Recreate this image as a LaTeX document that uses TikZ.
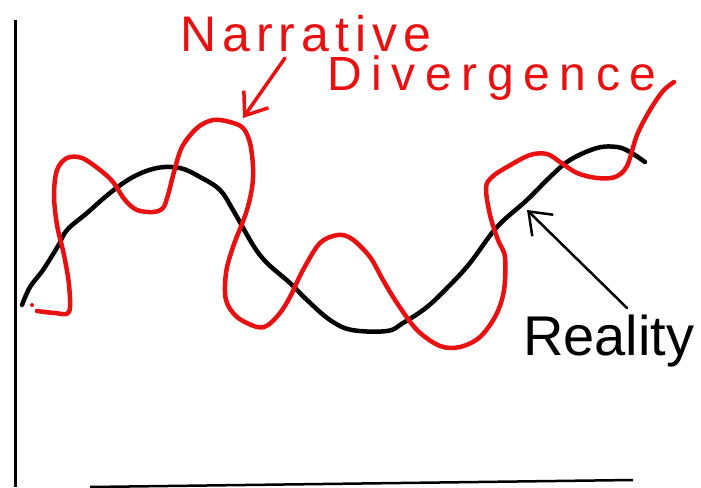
\documentclass[tikz,border=0pt]{standalone}
\usepackage{fontspec}
\setmainfont{Liberation Sans}
\usepackage{xcolor}
\usetikzlibrary{arrows.meta,positioning}
\definecolor{inkred}{RGB}{232,16,16}

\begin{document}
\begin{tikzpicture}[
    x=1pt, y=-1pt,
    axis/.style={line width=3pt, black},
    truth/.style={line width=4.5pt, black, line cap=round, line join=round},
    story/.style={line width=4.5pt, inkred, line cap=round, line join=round},
    label/.style={inner sep=0pt, anchor=base west},
    arrow/.style={-{Straight Barb[length=20pt,width=30pt]}, line cap=round, line join=round}
]
\useasboundingbox (0,0) rectangle (701,487);

% Axes
\draw[axis] (15,20) -- (15,487);
\draw[axis, line width=2.5pt] (90,487) -- (633,480);

% Reality
\draw[truth] plot[smooth, tension=0.6] coordinates {
    (22,305) (30,287) (43,270) (58,246) (67,230) (87,213) (110,193) (133,177)
    (157,168) (180,168) (200,177) (220,190) (233,210) (253,245) (267,263)
    (290,283) (307,300) (330,320) (352,330) (387,331) (403,323) (427,307)
    (450,285) (470,263) (497,227) (527,200) (550,177) (570,160) (597,148)
    (617,147) (630,152) (645,162)};

% Narrative
\fill[inkred] (32,305) circle (2pt);
\draw[story] plot[smooth, tension=0.55] coordinates {
    (37,311) (55,313) (69,312) (69,285) (64,255) (57,225) (54,195) (57,170)
    (67,158) (82,158) (100,170) (113,182) (125,200) (137,210) (153,212)
    (163,208) (168,195) (174,172) (182,147) (197,128) (213,120) (230,122)
    (243,128) (250,143) (253,167) (252,188) (246,213) (233,247) (226,273)
    (226,300) (237,317) (257,327) (268,325) (280,313) (290,297) (303,270)
    (320,243) (338,235) (352,239) (370,257) (383,280) (397,303) (417,330)
    (440,346) (460,347) (480,337) (496,315) (504,290) (505,257) (498,240)
    (490,215) (486,188) (492,177) (507,167) (530,155) (547,154) (560,162)
    (577,173) (597,178) (615,177) (627,166) (637,135) (650,110) (663,91)
    (674,82)};

% Labels
\node[label, text=inkred, font=\fontsize{50}{52}\selectfont\addfontfeature{LetterSpace=12}]
    (narr) at (180,52) {Narrative};
\node[label, text=inkred, font=\fontsize{48}{50}\selectfont\addfontfeature{LetterSpace=20}]
    (div) at (327,90) {Divergence};
\node[label, font=\fontsize{56}{58}\selectfont] (real) at (523,355) {Reality};

% Pointers
\coordinate (narrtail) at (285,58);
\coordinate (narrtip) at (243,118);
\coordinate (realtail) at (627,308);
\coordinate (realtip) at (527,210);
\draw[arrow, inkred, line width=3.5pt] (narrtail) -- (narrtip);
\draw[arrow, black, line width=2.5pt] (realtail) -- (realtip);

\end{tikzpicture}
\end{document}
